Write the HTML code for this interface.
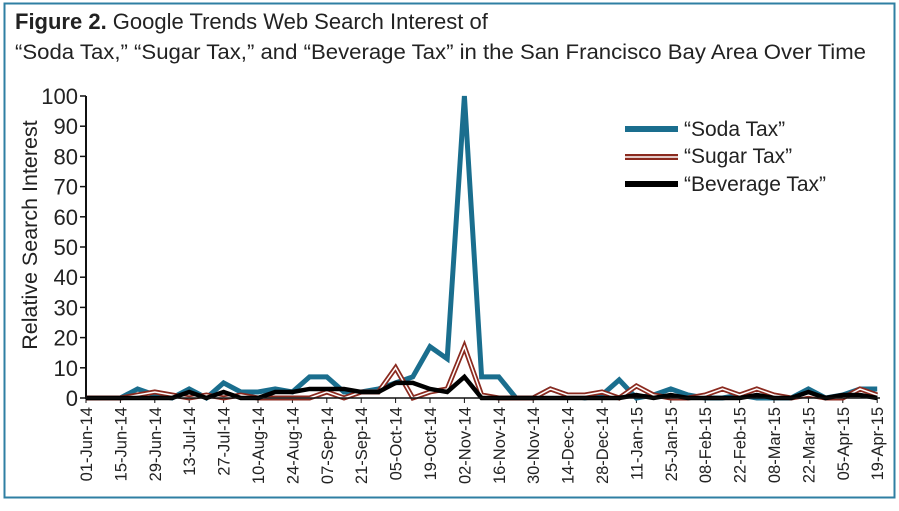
<!DOCTYPE html>
<html><head><style>
body{margin:0;background:#fff;}
svg text{font-family:"Liberation Sans",sans-serif;fill:#222;}
</style></head><body>
<svg width="899" height="506" xmlns="http://www.w3.org/2000/svg">
<rect x="4.5" y="3.5" width="890" height="494" fill="none" stroke="#2f7fa3" stroke-width="2"/>
<text x="15" y="29" font-size="22"><tspan font-weight="bold">Figure 2.</tspan> Google Trends Web Search Interest of</text>
<text x="15" y="59" font-size="21.5" textLength="851" lengthAdjust="spacingAndGlyphs">“Soda Tax,” “Sugar Tax,” and “Beverage Tax” in the San Francisco Bay Area Over Time</text>
<g id="yax" font-size="22" text-anchor="end"></g>
<text transform="translate(37,235) rotate(-90)" font-size="21.5" text-anchor="middle">Relative Search Interest</text>
<g id="xax" font-size="16.5"></g>
<g id="series" fill="none" stroke-linejoin="miter"></g>
<line x1="86" y1="96" x2="86" y2="399" stroke="#111" stroke-width="2"/>
<line x1="86" y1="398" x2="880" y2="398" stroke="#111" stroke-width="1.5"/>
<g font-size="21">
<line x1="625" y1="129" x2="678" y2="129" stroke="#1a6e8e" stroke-width="6"/>
<text x="684" y="136">“Soda Tax”</text>
<line x1="625" y1="157" x2="678" y2="157" stroke="#8b2a1f" stroke-width="6"/>
<line x1="625" y1="157" x2="678" y2="157" stroke="#fff" stroke-width="1.5"/>
<text x="684" y="163">“Sugar Tax”</text>
<line x1="625" y1="184" x2="678" y2="184" stroke="#000" stroke-width="6"/>
<text x="684" y="191">“Beverage Tax”</text>
</g>
</svg>
<script>
const ns="http://www.w3.org/2000/svg";
const X=i=>86+i*17.2, Y=v=>398-v*3.02;
let y=document.getElementById('yax');
for(let v=0;v<=100;v+=10){
 let t=document.createElementNS(ns,'text');t.setAttribute('x',78);t.setAttribute('y',Y(v)+8);t.textContent=v;y.appendChild(t);
 let l=document.createElementNS(ns,'line');l.setAttribute('x1',80);l.setAttribute('x2',86);l.setAttribute('y1',Y(v));l.setAttribute('y2',Y(v));l.setAttribute('stroke','#111');l.setAttribute('stroke-width',1.5);y.appendChild(l);
}
const labs=["01-Jun-14","15-Jun-14","29-Jun-14","13-Jul-14","27-Jul-14","10-Aug-14","24-Aug-14","07-Sep-14","21-Sep-14","05-Oct-14","19-Oct-14","02-Nov-14","16-Nov-14","30-Nov-14","14-Dec-14","28-Dec-14","11-Jan-15","25-Jan-15","08-Feb-15","22-Feb-15","08-Mar-15","22-Mar-15","05-Apr-15","19-Apr-15"];
let xa=document.getElementById('xax');
labs.forEach((s,k)=>{let x=X(2*k);
 let t=document.createElementNS(ns,'text');t.setAttribute('transform',`translate(${x+6},407) rotate(-90)`);t.setAttribute('text-anchor','end');t.textContent=s;xa.appendChild(t);
 let l=document.createElementNS(ns,'line');l.setAttribute('x1',x);l.setAttribute('x2',x);l.setAttribute('y1',398);l.setAttribute('y2',403);l.setAttribute('stroke','#111');xa.appendChild(l);});
const soda=[0,0,0,3,1,0,3,0,5,2,2,3,2,7,7,2,2,3,5,7,17,13,100,7,7,0,0,3,1,0,1,6,0,1,3,1,0,0,1,0,0,0,3,0,1,3,3];
const sugar=[0,0,0,1,2,1,0,1,0,1,0,0,0,0,2,0,2,2,10,0,2,3,17,1,0,0,0,3,1,1,2,0,4,1,0,0,1,3,1,3,1,0,1,0,0,3,1];
const bev=[0,0,0,0,0,0,2,0,2,0,0,2,2,3,3,3,2,2,5,5,3,2,7,0,0,0,0,0,0,0,0,0,1,0,1,0,0,0,0,1,0,0,2,0,1,1,0];
const pts=a=>a.map((v,i)=>X(i)+','+Y(v)).join(' ');
let g=document.getElementById('series');
function pl(a,c,w){let p=document.createElementNS(ns,'polyline');p.setAttribute('points',pts(a));p.setAttribute('stroke',c);p.setAttribute('stroke-width',w);g.appendChild(p);}
pl(soda,'#1a6e8e',5);pl(sugar,'#8b2a1f',5);pl(sugar,'#fff',1.5);pl(bev,'#000',4.5);
</script>
</body></html>
